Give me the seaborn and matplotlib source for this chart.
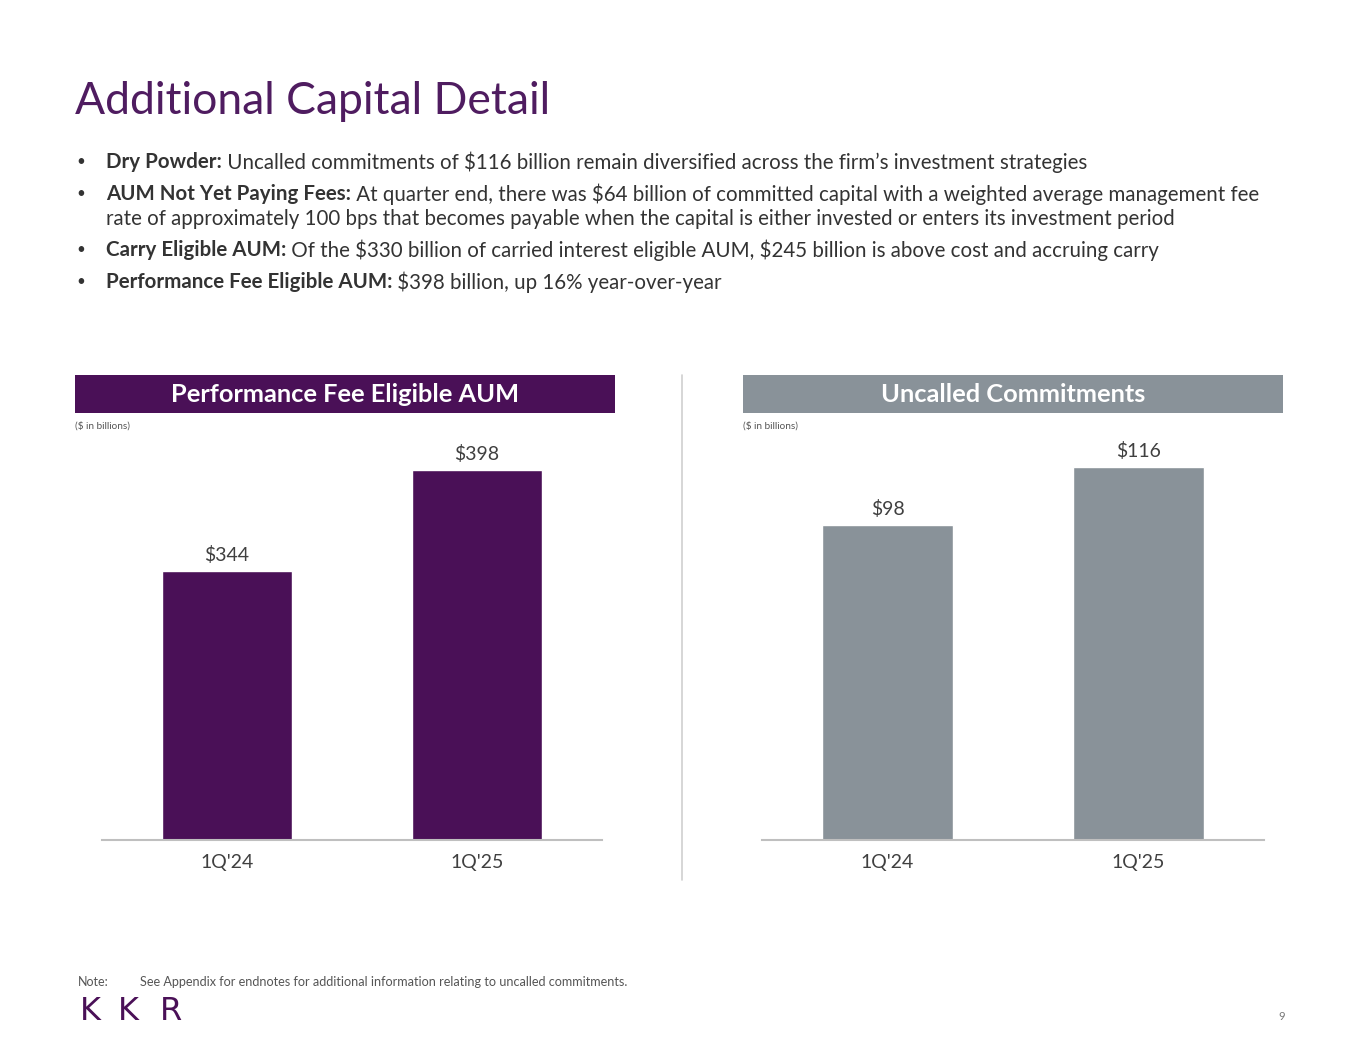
import matplotlib
matplotlib.use("Agg")
import matplotlib.pyplot as plt
import seaborn as sns
import pandas as pd

# datos
periodos = ["1Q'24", "1Q'25"]
perf_fee_aum = [344, 398]
uncalled = [98, 116]

titulo = "Additional Capital Detail"
bullets = [
    ("Dry Powder:", " Uncalled commitments of $116 billion remain diversified across the firm\u2019s investment strategies"),
    ("AUM Not Yet Paying Fees:", " At quarter end, there was $64 billion of committed capital with a weighted average management fee"),
    (None, "rate of approximately 100 bps that becomes payable when the capital is either invested or enters its investment period"),
    ("Carry Eligible AUM:", " Of the $330 billion of carried interest eligible AUM, $245 billion is above cost and accruing carry"),
    ("Performance Fee Eligible AUM:", " $398 billion, up 16% year-over-year"),
]

morado = "#4A1057"
gris = "#899299"
texto = "#333333"

sns.set_theme(style="white")
plt.rcParams["font.family"] = ["Lato", "DejaVu Sans"]
plt.rcParams["text.parse_math"] = False

W, H = 1365, 1055
fig = plt.figure(figsize=(W / 100, H / 100), dpi=100)


def fx(px):
    return px / W


def fy(py):
    return 1 - py / H


# titulo
fig.text(fx(75), fy(101), titulo, fontsize=32, color="#4F1C60", va="center", ha="left")

# bullets con parte en negrita
fig.canvas.draw()
renderer = fig.canvas.get_renderer()
ys = [162, 194, 219, 250, 282]
fs = 14.8
for (neg, resto), y in zip(bullets, ys):
    x0 = fx(106)
    if neg is not None:
        fig.text(fx(76), fy(y), "\u2022", fontsize=11, color=texto, va="center", ha="left")
        t = fig.text(x0, fy(y), neg, fontsize=fs, color=texto, va="center", ha="left", fontweight="bold")
        bb = t.get_window_extent(renderer=renderer)
        x0 = bb.x1 / W
    fig.text(x0, fy(y), resto, fontsize=fs, color=texto, va="center", ha="left")

# encabezados
for x, color, txt in [(75, morado, "Performance Fee Eligible AUM"), (743, gris, "Uncalled Commitments")]:
    fig.patches.append(plt.Rectangle((fx(x), fy(413)), fx(540), 38 / H, transform=fig.transFigure,
                                     facecolor=color, edgecolor="none"))
    fig.text(fx(x + 270), fy(394), txt, fontsize=18.3, fontweight="bold", color="white", ha="center", va="center")
    fig.text(fx(x), fy(426), "($ in billions)", fontsize=7.2, color="#555555", ha="left", va="center")

# linea divisoria
fig.add_artist(plt.Line2D([fx(682), fx(682)], [fy(375), fy(880)], transform=fig.transFigure,
                          color="#D0D0D0", lw=1.2))

paneles = [
    (102, 500, perf_fee_aum, morado, (200, 200 + 400 / 1.87)),
    (762, 502, uncalled, gris, (0, 400 / 3.215)),
]
for x, w, vals, color, ylim in paneles:
    ax = fig.add_axes([fx(x), fy(840), fx(w), 400 / H])
    df = pd.DataFrame({"periodo": periodos, "valor": vals})
    sns.barplot(data=df, x="periodo", y="valor", color=color, width=0.52, ax=ax, saturation=1)
    ax.set_ylim(*ylim)
    ax.set_xlim(-0.5, 1.5)
    for i, v in enumerate(vals):
        ax.annotate(f"${v}", (i, v), xytext=(0, 5), textcoords="offset points",
                    ha="center", va="bottom", fontsize=14, color="#404040")
    sns.despine(ax=ax, left=True)
    ax.spines["bottom"].set_color("#BFBFBF")
    ax.spines["bottom"].set_linewidth(1.5)
    ax.set_yticks([])
    ax.set_xlabel("")
    ax.set_ylabel("")
    ax.tick_params(axis="x", length=0, labelsize=14, labelcolor="#404040", pad=10)
    ax.set_facecolor("none")

# nota y pie
fig.text(fx(78), fy(982), "Note:", fontsize=9, color="#555555", va="center")
fig.text(fx(140), fy(982), "See Appendix for endnotes for additional information relating to uncalled commitments.",
         fontsize=9.1, color="#555555", va="center")
for letra, lx in zip("KKR", [80, 118, 160]):
    fig.text(fx(lx), fy(1012), letra, fontsize=23, color=morado, va="center", ha="left",
             family=["DejaVu Sans"])
fig.text(fx(1285), fy(1016), "9", fontsize=8, color="#777777", va="center", ha="right")

fig.savefig("out.png", dpi=100)
